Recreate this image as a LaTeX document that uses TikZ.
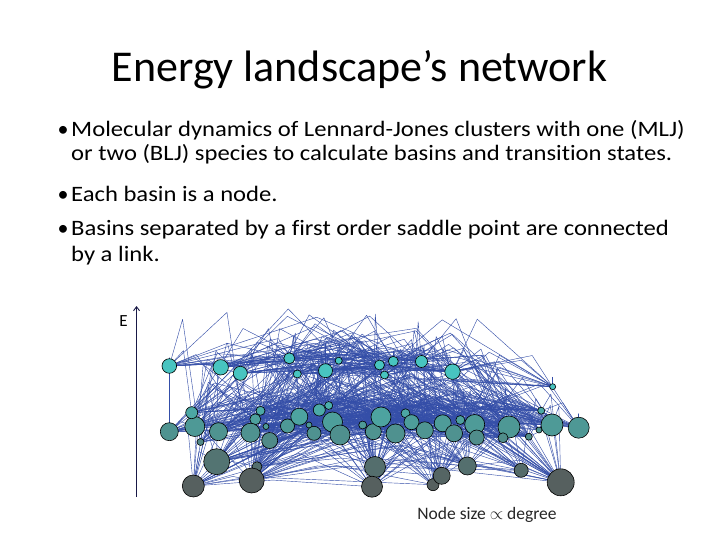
\documentclass[tikz,border=0pt]{standalone}
\usepackage{fontspec}
\setmainfont{Carlito}[Ligatures=NoCommon]
\newfontfamily\bodyfont[FakeStretch=1.12,Ligatures=NoCommon]{Carlito}
\usetikzlibrary{arrows.meta}
\pgfdeclarelayer{bg}
\pgfdeclarelayer{edges}
\pgfsetlayers{bg,edges,main}
\definecolor{ntop}{RGB}{72,196,192}
\definecolor{nbot}{RGB}{86,96,95}
\definecolor{edgeblue}{RGB}{52,78,168}
\definecolor{axisc}{RGB}{25,25,70}
\begin{document}
\begin{tikzpicture}[x=1pt,y=-1pt,
  bodytext/.style={anchor=base west,inner sep=0pt,font=\bodyfont\fontsize{22}{26}\selectfont},
  bulletmark/.style={anchor=base,inner sep=0pt,font=\fontsize{22}{26}\selectfont},
  basin/.style={circle,draw=black,line width=0.6pt,inner sep=0pt},
  edge/.style={edgeblue,line width=0.42pt,line join=round}]
\begin{pgfonlayer}{bg}
\fill[white] (0,0) rectangle (720,540);
\end{pgfonlayer}
\useasboundingbox (0,0) rectangle (720,540);
% title
\node[anchor=base,inner sep=0pt,font=\fontsize{44}{52}\selectfont] (title) at (359.5,82) {Energy landscape’s network};
% bullets
\node[bulletmark] (d1) at (63,137) {•};
\node[bodytext] (l1) at (71,137) {Molecular dynamics of Lennard-Jones clusters with one (MLJ)};
\node[bodytext] (l2) at (71,161) {or two (BLJ) species to calculate basins and transition states.};
\node[bulletmark] (d2) at (63,202) {•};
\node[bodytext] (l3) at (71,202) {Each basin is a node.};
\node[bulletmark] (d3) at (63,236) {•};
\node[bodytext] (l4) at (71,236) {Basins separated by a first order saddle point are connected};
\node[bodytext] (l5) at (71,261) {by a link.};
% axis
\coordinate (ax0) at (136.5,497);
\coordinate (ax1) at (136.5,306);
\draw[axisc,line width=0.9pt,-{Straight Barb[length=4pt,width=6pt]}] (ax0) -- (ax1);
\node[inner sep=0pt,font=\fontsize{17}{19}\selectfont] (E) at (123.5,321) {E};
% legend
\node[anchor=base,inner sep=0pt,font=\fontsize{17.5}{20}\selectfont,text=black!85] (leg) at (487,519) {Node size $\propto$ degree};
% basins
\foreach \i/\x/\y/\r in {
1/169.3/366/7.3, 2/220.7/367.3/7.7, 3/240.3/373.3/7, 4/289.3/358.3/5.5,
5/297.3/374/4, 6/325.5/370.7/7, 7/338.7/360.7/3.5, 8/379.5/365/5,
9/393.3/361.3/5, 10/384.5/375/4, 11/421.5/361.5/6, 12/452.5/371.7/7.7,
13/552.7/386.7/3, 15/194.8/426.5/10, 14/191.7/412.7/6, 16/169.3/431.7/9,
17/218.5/431.7/9, 18/200.5/442/3.5, 19/260.5/410.8/4.5, 20/255.3/419.3/5.5,
21/266/426.5/3, 22/250.5/432.7/9.5, 23/269.7/440.5/8, 24/287.5/426/7,
25/299.3/416.7/8.5, 26/309/425/3, 27/314/433.3/7, 28/319.3/410/6,
29/328.7/405.5/4, 30/332.5/422/10, 31/340/435/10, 32/362.7/425/4,
33/373.3/431.7/8, 34/381/417/10, 35/395.5/433.5/9.5, 36/405.5/413.3/4.5,
37/411.5/422.2/7.5, 38/424.8/430.3/8.5, 39/442.7/423.3/8.5, 40/454/433.3/8.5,
41/460.3/420/4.5, 42/474.7/424.5/10, 43/476.7/437.5/7.5, 44/509/427/11,
45/503/437.8/5, 46/528.8/436.7/3.5, 47/541.2/410.7/3.5, 48/539/430/3,
49/552/425/11, 50/578.7/427.7/10.5, 51/216.7/461.7/13, 52/257/466.7/5,
53/251.7/480.5/12.5, 54/193.3/486/11, 55/375/467/10.5, 56/372/486.7/10.5,
58/433/484.7/6, 57/441.7/475.8/8.5, 59/467.3/466/9, 60/521.2/470.3/7,
61/560.7/482.3/13.5}
{
  \pgfmathtruncatemacro\t{max(0,min(100,(\y-385)/95*100))}
  \node[basin,fill=nbot!\t!ntop,minimum size=2*\r pt] (n\i) at (\x,\y) {};
}
% links through saddle points
\pgfmathsetseed{7}
\begin{pgfonlayer}{edges}
\foreach \i/\r in {
1/7.3, 2/7.7, 3/7, 4/5.5, 5/4, 6/7, 7/3.5, 8/5, 9/5, 10/4, 11/6, 12/7.7,
13/3, 14/6, 15/10, 16/9, 17/9, 18/3.5, 19/4.5, 20/5.5, 21/3, 22/9.5, 23/8,
24/7, 25/8.5, 26/3, 27/7, 28/6, 29/4, 30/10, 31/10, 32/4, 33/8, 34/10,
35/9.5, 36/4.5, 37/7.5, 38/8.5, 39/8.5, 40/8.5, 41/4.5, 42/10, 43/7.5,
44/11, 45/5, 46/3.5, 47/3.5, 48/3, 49/11, 50/10.5, 51/13, 52/5, 53/12.5,
54/11, 55/10.5, 56/10.5, 57/8.5, 58/6, 59/9, 60/7, 61/13.5}
{
  \pgfmathtruncatemacro\k{round(\r*1.5)}
  \foreach \m in {1,...,\k}{
    \pgfmathtruncatemacro\j{random(1,61)}
    \path (n\i.center); \pgfgetlastxy{\xa}{\ya}
    \path (n\j.center); \pgfgetlastxy{\xb}{\yb}
    \pgfmathsetmacro\sx{((\xa)+(\xb))/2+(rnd-0.5)*0.6*abs((\xa)-(\xb))}
    \pgfmathsetmacro\sy{min(max(\ya,\yb)+4+55*rnd*rnd,-306)}
    \draw[edge] (n\i.center) -- (\sx pt,\sy pt) -- (n\j.center);
  }
}
\end{pgfonlayer}
\end{tikzpicture}
\end{document}
